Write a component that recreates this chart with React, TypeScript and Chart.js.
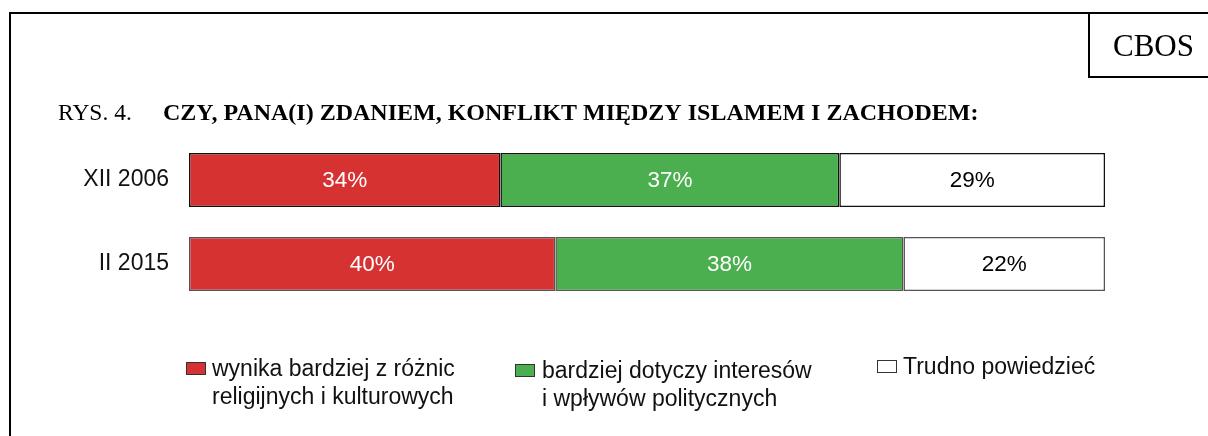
import React, { useEffect, useRef } from "react";
import { Chart, registerables } from "chart.js";

Chart.register(...registerables);

const categories = ["XII 2006", "II 2015"];
const seriesNames = [
  ["wynika bardziej z różnic", "religijnych i kulturowych"],
  ["bardziej dotyczy interesów", "i wpływów politycznych"],
  ["Trudno powiedzieć"],
];
const religiousValues = [34, 40];
const politicalValues = [37, 38];
const hardToSayValues = [29, 22];
const seriesColors = ["#D73232", "#4BAE4F", "#FFFFFF"];
const labelColors = ["#FFFFFF", "#FFFFFF", "#000000"];
const barBorders = ["#111111", "#555555"];
const figureLabel = "RYS. 4.";
const titleText = "CZY, PANA(I) ZDANIEM, KONFLIKT MIĘDZY ISLAMEM I ZACHODEM:";
const sourceLabel = "CBOS";

const SANS = "Arial, 'Liberation Sans', sans-serif";
const SERIF = "'Times New Roman', 'Liberation Serif', serif";

const decorPlugin = {
  id: "decor",
  beforeDraw(chart: any) {
    const ctx = chart.ctx;
    ctx.save();
    ctx.fillStyle = "#FFFFFF";
    ctx.fillRect(0, 0, chart.width, chart.height);
    // frame
    ctx.strokeStyle = "#000";
    ctx.lineWidth = 2;
    ctx.beginPath();
    ctx.moveTo(10, chart.height + 2);
    ctx.lineTo(10, 13);
    ctx.lineTo(chart.width + 2, 13);
    ctx.stroke();
    // CBOS box
    ctx.beginPath();
    ctx.moveTo(1089, 13);
    ctx.lineTo(1089, 77);
    ctx.lineTo(chart.width + 2, 77);
    ctx.stroke();
    ctx.fillStyle = "#000";
    ctx.textBaseline = "alphabetic";
    ctx.textAlign = "left";
    ctx.font = `31px ${SERIF}`;
    ctx.fillText(sourceLabel, 1113, 56);
    // title
    ctx.font = `23.5px ${SERIF}`;
    ctx.fillText(figureLabel, 58, 120);
    ctx.font = `bold 24px ${SERIF}`;
    ctx.fillText(titleText, 163, 120);
    ctx.restore();
  },
  afterDatasetsDraw(chart: any) {
    const ctx = chart.ctx;
    ctx.save();
    ctx.font = `22.5px ${SANS}`;
    ctx.textAlign = "center";
    ctx.textBaseline = "middle";
    chart.data.datasets.forEach((ds: any, i: number) => {
      const meta = chart.getDatasetMeta(i);
      meta.data.forEach((el: any, j: number) => {
        const v = ds.data[j];
        ctx.fillStyle = labelColors[i];
        ctx.fillText(`${v}%`, (el.x + el.base) / 2, el.y + 1);
      });
    });
    // legend
    const legendX = [186, 515, 877];
    const textOffsets = [26, 27, 26];
    const baseY = [376, 378, 374];
    ctx.textAlign = "left";
    ctx.textBaseline = "alphabetic";
    ctx.font = `23px ${SANS}`;
    seriesNames.forEach((lines, i) => {
      const bx = legendX[i];
      const by = baseY[i] - 14;
      ctx.fillStyle = seriesColors[i];
      ctx.fillRect(bx, by, 20, 13);
      ctx.strokeStyle = "#333";
      ctx.lineWidth = 1;
      ctx.strokeRect(bx + 0.5, by + 0.5, 19, 12);
      ctx.fillStyle = "#111";
      lines.forEach((line, k) => {
        ctx.fillText(line, bx + textOffsets[i], baseY[i] + k * 28);
      });
    });
    ctx.restore();
  },
};

export default function App() {
  const ref = useRef<HTMLCanvasElement>(null);
  useEffect(() => {
    if (!ref.current) return;
    const mk = (label: string, data: number[], idx: number) => ({
      label,
      data,
      backgroundColor: seriesColors[idx],
      borderColor: barBorders,
      borderWidth: 1.5,
      borderSkipped: false,
      barPercentage: 54 / 84,
      categoryPercentage: 1,
    });
    const chart = new Chart(ref.current, {
      type: "bar",
      data: {
        labels: categories,
        datasets: [
          mk(seriesNames[0].join(" "), religiousValues, 0),
          mk(seriesNames[1].join(" "), politicalValues, 1),
          mk(seriesNames[2].join(" "), hardToSayValues, 2),
        ],
      },
      options: {
        indexAxis: "y",
        responsive: false,
        animation: false,
        layout: { padding: { left: 0, right: 103, top: 138, bottom: 130 } },
        plugins: {
          legend: { display: false },
          tooltip: { enabled: false },
          title: { display: false },
        },
        scales: {
          x: { stacked: true, min: 0, max: 100, display: false },
          y: {
            stacked: true,
            grid: { display: false, drawTicks: false },
            border: { display: false },
            ticks: {
              color: "#111",
              padding: 20,
              font: { family: SANS, size: 23 },
            },
            afterFit(scale: any) {
              scale.width = 189;
            },
          },
        },
      },
      plugins: [decorPlugin],
    } as any);
    return () => chart.destroy();
  }, []);
  return (
    <div style={{ position: "fixed", left: 0, top: 0, width: 1208, height: 436, background: "#fff" }}>
      <canvas ref={ref} width={1208} height={436} style={{ display: "block" }} />
    </div>
  );
}
